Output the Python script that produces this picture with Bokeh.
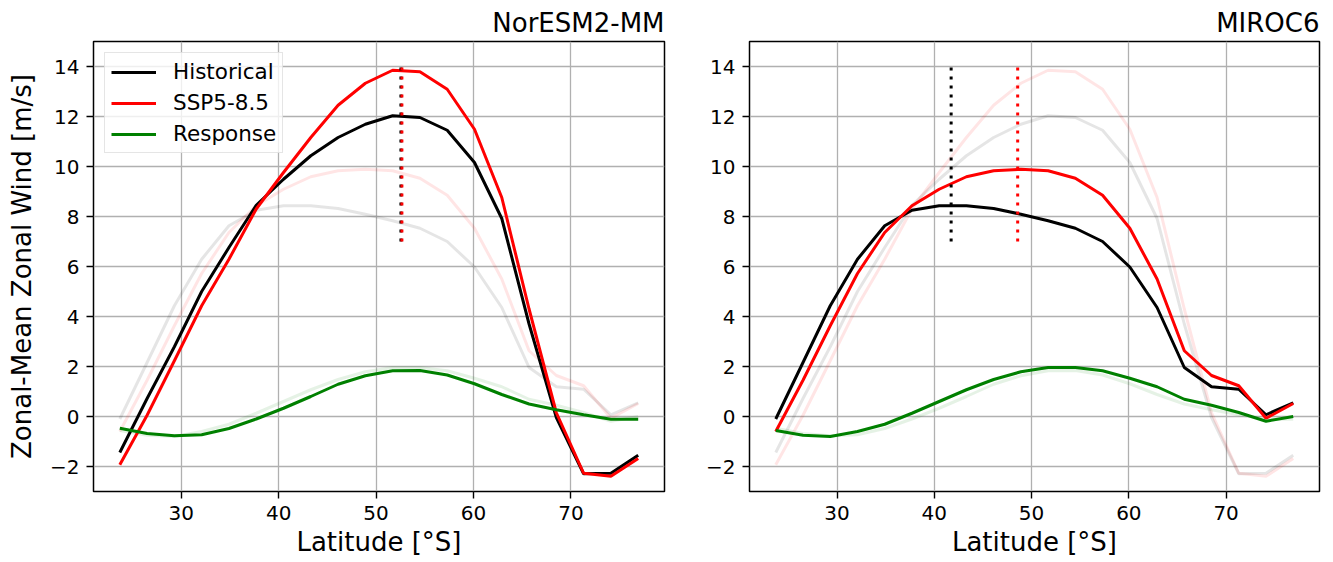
from bokeh.plotting import figure
from bokeh.layouts import row
from bokeh.models import Range1d, FixedTicker
from bokeh.embed import file_html
from bokeh.resources import INLINE

# latitude of the zonal-mean points [°S]
lat = [23.7, 26.5, 29.3, 32.1, 34.9, 37.7, 40.5, 43.3, 46.1, 48.9,
       51.7, 54.5, 57.3, 60.1, 62.9, 65.7, 68.5, 71.3, 74.1, 76.9]

# NorESM2-MM zonal-mean zonal wind [m/s]
noresm_hist = [-1.44, 0.72, 2.79, 5.0, 6.76, 8.45, 9.49, 10.43, 11.16, 11.69,
               12.03, 11.96, 11.45, 10.16, 7.92, 3.7, -0.04, -2.29, -2.27, -1.55]
noresm_ssp = [-1.93, 0.05, 2.23, 4.43, 6.29, 8.3, 9.76, 11.16, 12.45, 13.33,
              13.85, 13.79, 13.09, 11.49, 8.76, 4.3, 0.15, -2.27, -2.39, -1.68]
noresm_resp = [-0.47, -0.68, -0.77, -0.73, -0.48, -0.1, 0.33, 0.8, 1.29, 1.63,
               1.83, 1.84, 1.66, 1.31, 0.88, 0.5, 0.27, 0.07, -0.11, -0.11]

# MIROC6 zonal-mean zonal wind [m/s]
miroc_hist = [-0.1, 2.16, 4.43, 6.29, 7.63, 8.25, 8.43, 8.43, 8.32, 8.09,
              7.83, 7.53, 7.0, 5.98, 4.36, 1.96, 1.19, 1.09, 0.07, 0.55]
miroc_ssp = [-0.6, 1.45, 3.63, 5.72, 7.36, 8.43, 9.09, 9.59, 9.83, 9.89,
             9.83, 9.53, 8.85, 7.53, 5.5, 2.63, 1.64, 1.23, -0.07, 0.52]
miroc_resp = [-0.56, -0.75, -0.8, -0.6, -0.31, 0.13, 0.6, 1.07, 1.48, 1.79,
              1.96, 1.96, 1.83, 1.53, 1.19, 0.69, 0.45, 0.16, -0.19, 0.0]

# jet latitude (dotted markers) and their vertical extent
noresm_jet_hist, noresm_jet_ssp = 52.55, 52.65
miroc_jet_hist, miroc_jet_ssp = 41.73, 48.57
jet_line_y = [7, 14]

x_ticks = [30, 40, 50, 60, 70]
y_ticks = [-2, 0, 2, 4, 6, 8, 10, 12, 14]

FONT = "DejaVu Sans"
LW = 3


def make_panel(name, hist, ssp, resp, o_hist, o_ssp, o_resp, jet_h, jet_s,
               w, mbl, mbr, ylabel=None, legend=False):
    p = figure(width=w, height=562,
               x_range=Range1d(21.0, 79.6), y_range=Range1d(-3, 15),
               output_backend="svg", toolbar_location=None,
               min_border_left=mbl, min_border_right=mbr,
               min_border_top=41, min_border_bottom=71)

    p.title.text = name
    p.title.align = "right"
    p.title.text_font = FONT
    p.title.text_font_size = "26px"
    p.title.text_font_style = "normal"
    p.title.text_color = "black"
    p.title.standoff = 8

    # the other model, faint
    p.line(lat, o_hist, color="black", alpha=0.1, line_width=LW)
    p.line(lat, o_ssp, color="red", alpha=0.1, line_width=LW)
    p.line(lat, o_resp, color="green", alpha=0.1, line_width=LW)

    if legend:
        p.line(lat, hist, color="black", line_width=LW, legend_label="Historical")
        p.line(lat, ssp, color="red", line_width=LW, legend_label="SSP5-8.5")
        p.line(lat, resp, color="green", line_width=LW, legend_label="Response")
    else:
        p.line(lat, hist, color="black", line_width=LW)
        p.line(lat, ssp, color="red", line_width=LW)
        p.line(lat, resp, color="green", line_width=LW)

    # jet positions
    p.line([jet_h, jet_h], jet_line_y, color="black", line_width=LW, line_dash="3 6")
    p.line([jet_s, jet_s], jet_line_y, color="red", line_width=LW, line_dash="3 6")

    p.xaxis.ticker = FixedTicker(ticks=x_ticks)
    p.yaxis.ticker = FixedTicker(ticks=y_ticks)
    p.yaxis.major_label_overrides = {-2: "\u22122"}

    p.grid.grid_line_color = "#b0b0b0"
    p.grid.grid_line_width = 1.3
    p.outline_line_color = "black"
    p.outline_line_width = 1.5
    p.outline_line_alpha = 1

    p.axis.axis_line_color = None
    p.axis.major_tick_line_color = "black"
    p.axis.major_tick_line_width = 1.4
    p.axis.major_tick_out = 7
    p.axis.major_tick_in = 0
    p.axis.minor_tick_line_color = None
    p.axis.major_label_text_font = FONT
    p.axis.major_label_text_font_size = "20px"
    p.axis.major_label_text_color = "black"
    p.axis.major_label_standoff = 7

    p.xaxis.axis_label = "Latitude [°S]"
    p.xaxis.axis_label_standoff = 4
    if ylabel:
        p.yaxis.axis_label = ylabel
        p.yaxis.axis_label_standoff = 10
    p.axis.axis_label_text_font = FONT
    p.axis.axis_label_text_font_size = "26px"
    p.axis.axis_label_text_font_style = "normal"
    p.axis.axis_label_text_color = "black"

    if legend:
        p.legend.location = "top_left"
        p.legend.margin = 11
        p.legend.padding = 6
        p.legend.spacing = 6
        p.legend.glyph_width = 45
        p.legend.glyph_height = 24
        p.legend.label_standoff = 17
        p.legend.label_text_font = FONT
        p.legend.label_text_font_size = "21.5px"
        p.legend.label_text_color = "black"
        p.legend.border_line_color = "#cccccc"
        p.legend.border_line_width = 1.3
        p.legend.background_fill_alpha = 0.8
    return p


p1 = make_panel("NorESM2-MM", noresm_hist, noresm_ssp, noresm_resp,
                miroc_hist, miroc_ssp, miroc_resp,
                noresm_jet_hist, noresm_jet_ssp,
                688, 93, 24, ylabel="Zonal-Mean Zonal Wind [m/s]", legend=True)
p2 = make_panel("MIROC6", miroc_hist, miroc_ssp, miroc_resp,
                noresm_hist, noresm_ssp, noresm_resp,
                miroc_jet_hist, miroc_jet_ssp,
                645, 61, 14)

layout = row(p1, p2)
open("out.html", "w").write(file_html(layout, INLINE))
